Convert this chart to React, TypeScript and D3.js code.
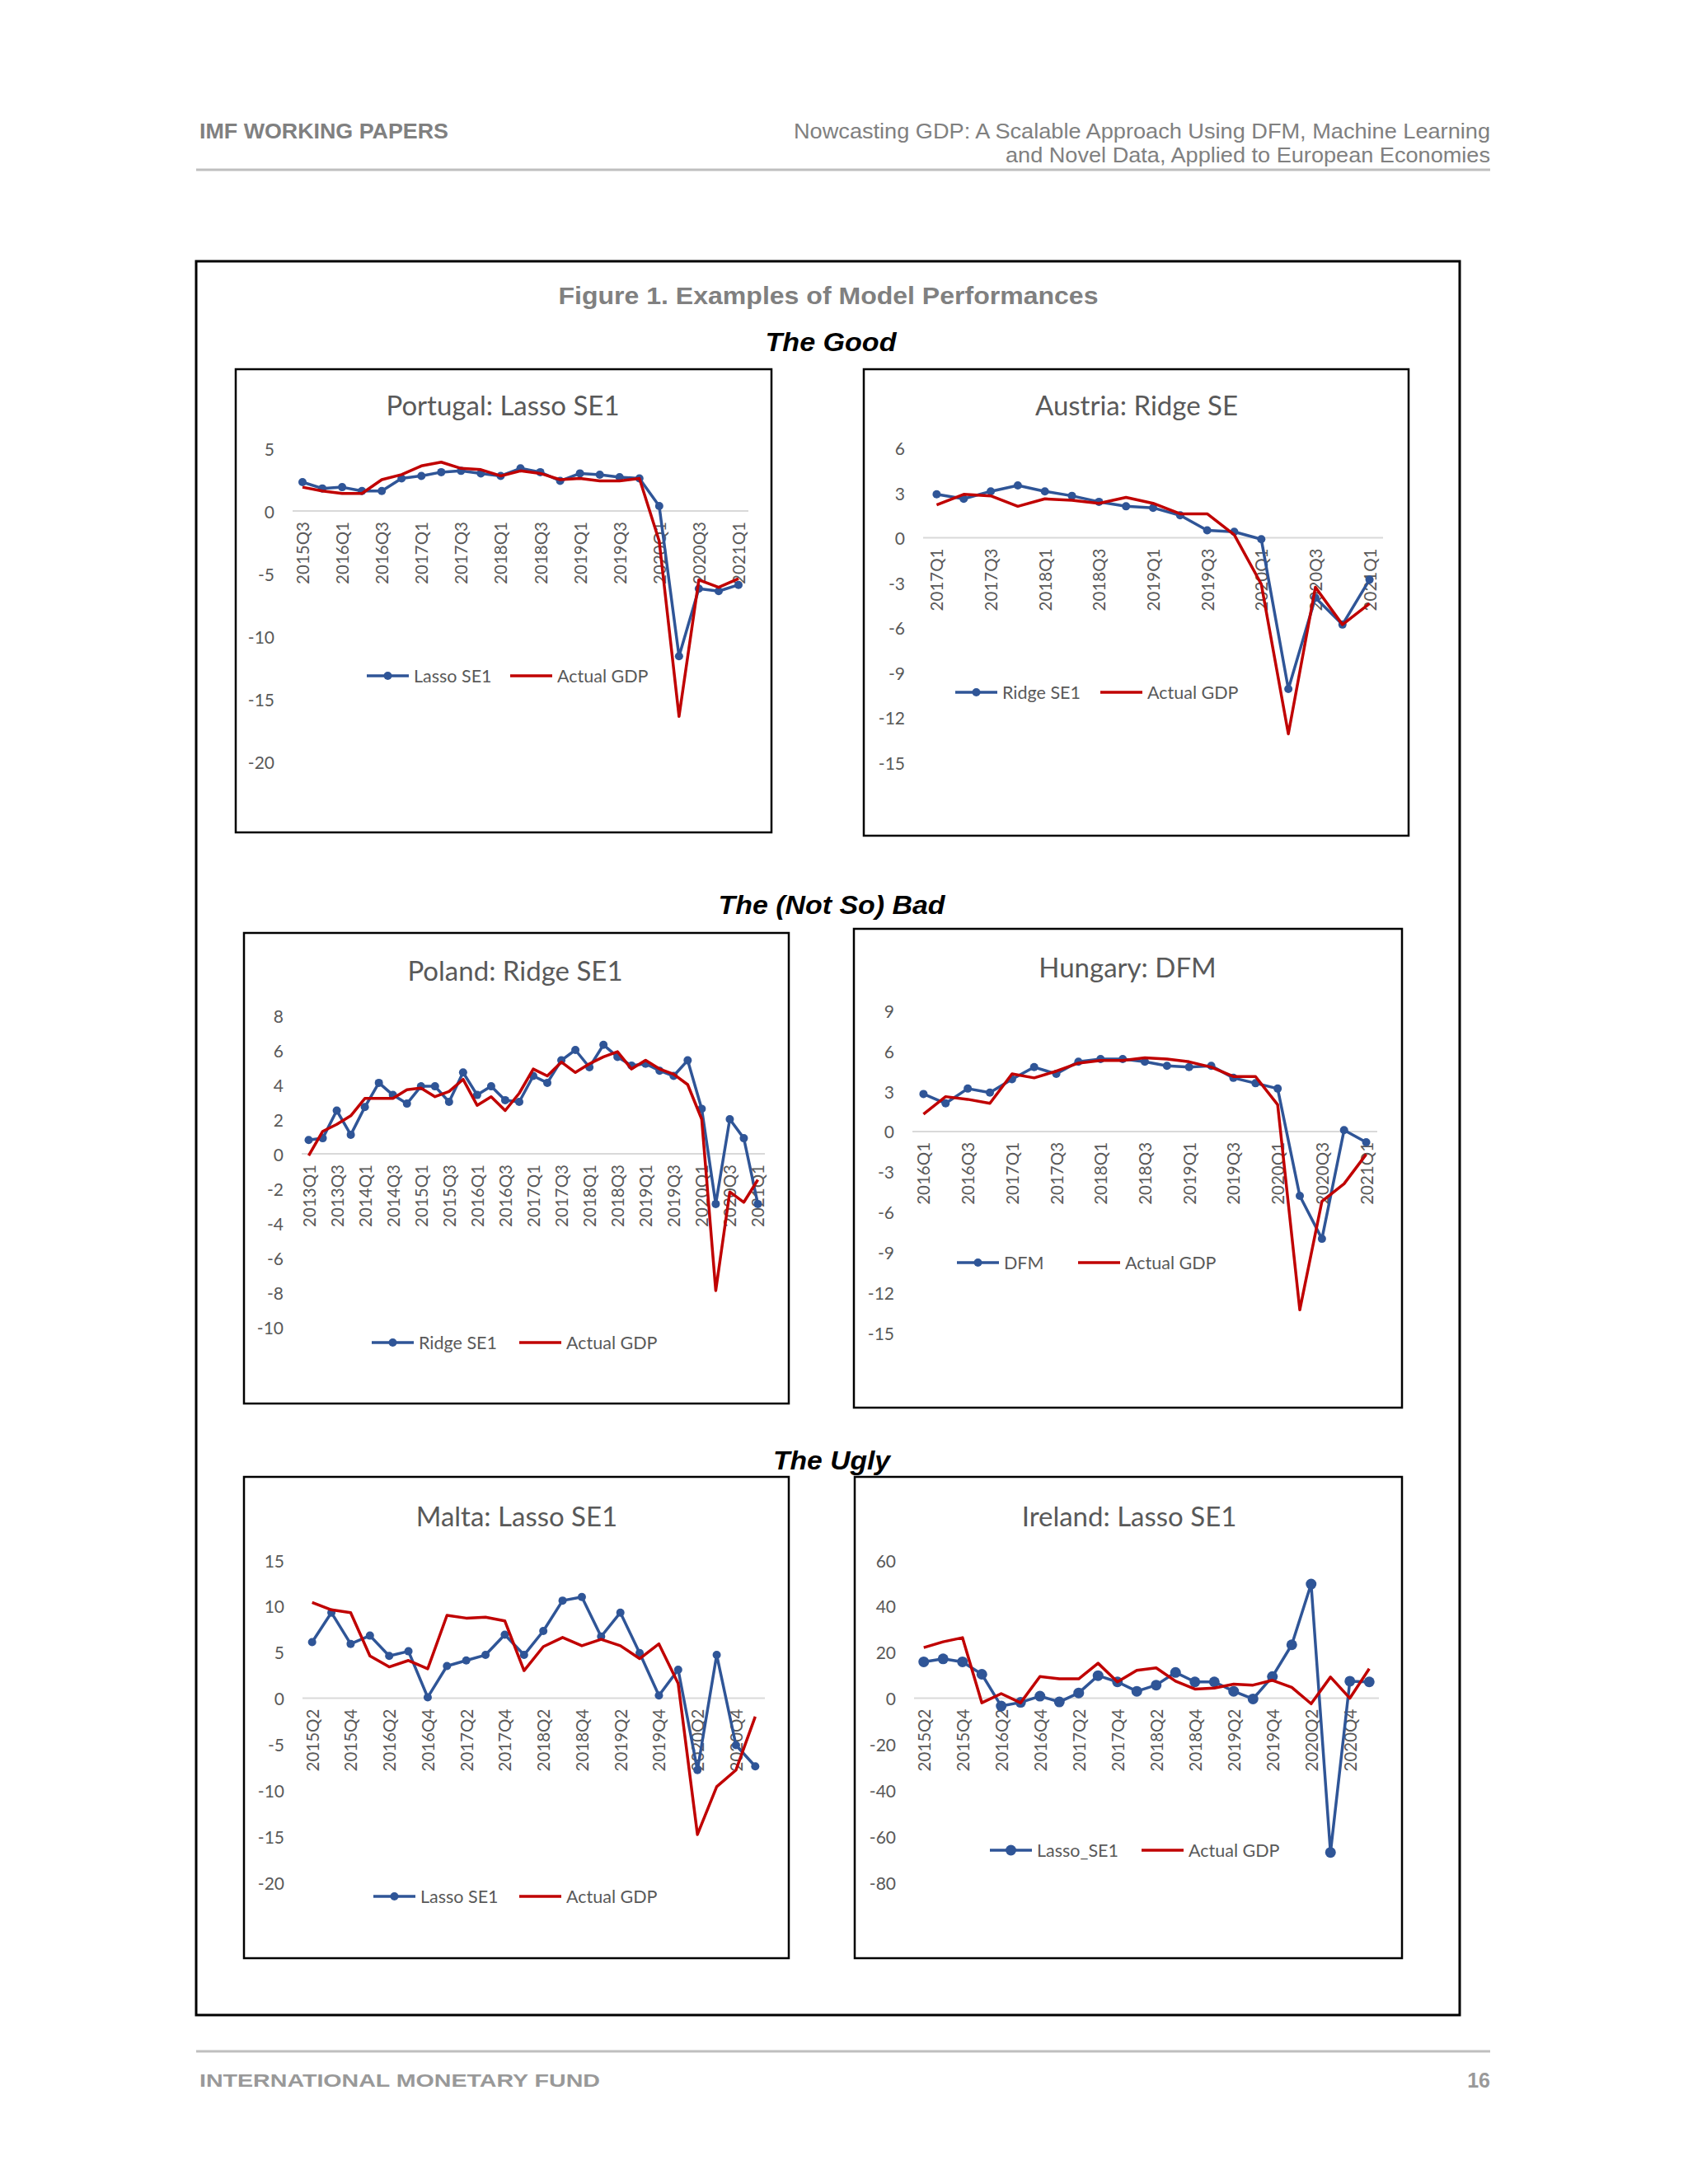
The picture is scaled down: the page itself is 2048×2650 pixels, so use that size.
import React from "react";
import * as d3 from "d3";

// quarters used across the six panels
const QUARTERS = [
  "2013Q1", "2013Q2", "2013Q3", "2013Q4",
  "2014Q1", "2014Q2", "2014Q3", "2014Q4",
  "2015Q1", "2015Q2", "2015Q3", "2015Q4",
  "2016Q1", "2016Q2", "2016Q3", "2016Q4",
  "2017Q1", "2017Q2", "2017Q3", "2017Q4",
  "2018Q1", "2018Q2", "2018Q3", "2018Q4",
  "2019Q1", "2019Q2", "2019Q3", "2019Q4",
  "2020Q1", "2020Q2", "2020Q3", "2020Q4",
  "2021Q1",
];

const PT_CATS = QUARTERS.slice(10); // 2015Q3..
const AT_CATS = QUARTERS.slice(16); // 2017Q1..
const PL_CATS = QUARTERS; // 2013Q1..
const HU_CATS = QUARTERS.slice(12); // 2016Q1..
const MT_CATS = QUARTERS.slice(9); // 2015Q2..
const IE_CATS = QUARTERS.slice(9);

const PT_MODEL = [2.3, 1.8, 1.9, 1.6, 1.6, 2.6, 2.8, 3.1, 3.2, 3.0, 2.8, 3.4, 3.1, 2.4, 3.0, 2.9, 2.7, 2.6, 0.4, -11.6, -6.2, -6.4, -5.9];
const PT_GDP = [1.9, 1.6, 1.4, 1.4, 2.5, 2.9, 3.6, 3.9, 3.4, 3.3, 2.8, 3.2, 3.0, 2.5, 2.6, 2.4, 2.4, 2.6, -2.4, -16.4, -5.5, -6.1, -5.4];

const AT_MODEL = [2.9, 2.6, 3.1, 3.5, 3.1, 2.8, 2.4, 2.1, 2.0, 1.5, 0.5, 0.4, -0.1, -10.1, -4.0, -5.8, -2.8];
const AT_GDP = [2.2, 2.9, 2.8, 2.1, 2.6, 2.5, 2.3, 2.7, 2.3, 1.6, 1.6, 0.2, -3.1, -13.1, -3.3, -5.8, -4.4];

const PL_MODEL = [0.8, 0.9, 2.5, 1.1, 2.7, 4.1, 3.4, 2.9, 3.9, 3.9, 3.0, 4.7, 3.4, 3.9, 3.1, 3.0, 4.5, 4.1, 5.4, 6.0, 5.0, 6.3, 5.6, 5.1, 5.2, 4.8, 4.5, 5.4, 2.6, -2.9, 2.0, 0.9, -2.9];
const PL_GDP = [-0.1, 1.3, 1.7, 2.2, 3.2, 3.2, 3.2, 3.7, 3.8, 3.3, 3.6, 4.3, 2.8, 3.3, 2.5, 3.5, 4.9, 4.5, 5.3, 4.7, 5.2, 5.6, 5.9, 4.9, 5.4, 4.9, 4.6, 4.0, 2.0, -7.9, -2.2, -2.8, -1.5];

const HU_MODEL = [2.8, 2.1, 3.2, 2.9, 3.9, 4.8, 4.3, 5.2, 5.4, 5.4, 5.2, 4.9, 4.8, 4.9, 4.0, 3.6, 3.2, -4.8, -8.0, 0.1, -0.8];
const HU_GDP = [1.3, 2.6, 2.4, 2.1, 4.3, 4.0, 4.5, 5.1, 5.3, 5.3, 5.5, 5.4, 5.2, 4.8, 4.1, 4.1, 2.0, -13.3, -5.2, -3.9, -1.7];

const MT_MODEL = [6.1, 9.3, 5.9, 6.8, 4.6, 5.1, 0.1, 3.5, 4.1, 4.7, 6.9, 4.7, 7.3, 10.6, 11.0, 6.7, 9.3, 4.9, 0.3, 3.1, -7.8, 4.7, -5.1, -7.4];
const MT_GDP = [10.4, 9.6, 9.3, 4.6, 3.4, 4.1, 3.2, 9.0, 8.7, 8.8, 8.4, 3.0, 5.6, 6.6, 5.7, 6.4, 5.7, 4.3, 5.9, 1.6, -14.8, -9.6, -7.8, -2.0];

const IE_MODEL = [15.8, 17.1, 15.8, 10.4, -3.4, -1.8, 0.9, -1.6, 2.3, 9.8, 7.1, 3.0, 5.7, 11.2, 7.1, 7.1, 3.0, -0.3, 9.4, 23.2, 49.6, -67.0, 7.4, 7.1];
const IE_GDP = [22.0, 24.5, 26.3, -2.0, 2.0, -2.0, 9.4, 8.4, 8.4, 15.2, 7.1, 12.1, 13.2, 7.4, 4.0, 4.4, 6.1, 5.7, 7.8, 4.7, -2.4, 9.2, 0.0, 12.8];

const PT_TICKS = [5, 0, -5, -10, -15, -20];
const AT_TICKS = [6, 3, 0, -3, -6, -9, -12, -15];
const PL_TICKS = [8, 6, 4, 2, 0, -2, -4, -6, -8, -10];
const HU_TICKS = [9, 6, 3, 0, -3, -6, -9, -12, -15];
const MT_TICKS = [15, 10, 5, 0, -5, -10, -15, -20];
const IE_TICKS = [60, 40, 20, 0, -20, -40, -60, -80];

const BLUE = "#2f5597";
const RED = "#c00000";
const CHART_FONT = "Lato, 'Noto Sans', sans-serif";
const PAGE_FONT = "'Liberation Sans', Arial, sans-serif";

interface ChartCfg {
  title: string;
  model: string;
  cats: string[];
  a: number[];
  b: number[];
  ticks: number[];
  box: [number, number, number, number];
  plot: { left: number; right: number; top: number; bottom: number };
  titlePos: [number, number];
  legend: { y: number; x1: number; x2: number };
  r?: number;
}

const charts: ChartCfg[] = [
  {
    title: "Portugal: Lasso SE1", model: "Lasso SE1", cats: PT_CATS, a: PT_MODEL, b: PT_GDP, ticks: PT_TICKS,
    box: [286, 448, 650, 562], plot: { left: 355, right: 908, top: 544, bottom: 924 },
    titlePos: [610, 491], legend: { y: 820, x1: 445, x2: 619 },
  },
  {
    title: "Austria: Ridge SE", model: "Ridge SE1", cats: AT_CATS, a: AT_MODEL, b: AT_GDP, ticks: AT_TICKS,
    box: [1048, 448, 661, 566], plot: { left: 1120, right: 1678, top: 543.5, bottom: 925 },
    titlePos: [1379, 491], legend: { y: 840, x1: 1159, x2: 1335 },
  },
  {
    title: "Poland: Ridge SE1", model: "Ridge SE1", cats: PL_CATS, a: PL_MODEL, b: PL_GDP, ticks: PL_TICKS,
    box: [296, 1132, 661, 571], plot: { left: 366, right: 928, top: 1232, bottom: 1610 },
    titlePos: [625, 1177], legend: { y: 1629, x1: 451, x2: 630 },
  },
  {
    title: "Hungary: DFM", model: "DFM", cats: HU_CATS, a: HU_MODEL, b: HU_GDP, ticks: HU_TICKS,
    box: [1036, 1127, 665, 581], plot: { left: 1107, right: 1671, top: 1226.5, bottom: 1617 },
    titlePos: [1368, 1173], legend: { y: 1532, x1: 1161, x2: 1308 },
  },
  {
    title: "Malta: Lasso SE1", model: "Lasso SE1", cats: MT_CATS, a: MT_MODEL, b: MT_GDP, ticks: MT_TICKS,
    box: [296, 1792, 661, 584], plot: { left: 367, right: 928, top: 1893, bottom: 2284 },
    titlePos: [627, 1839], legend: { y: 2301, x1: 453, x2: 630 },
  },
  {
    title: "Ireland: Lasso SE1", model: "Lasso_SE1", cats: IE_CATS, a: IE_MODEL, b: IE_GDP, ticks: IE_TICKS,
    box: [1037, 1792, 664, 584], plot: { left: 1109, right: 1673, top: 1893, bottom: 2284 },
    titlePos: [1370, 1839], legend: { y: 2245, x1: 1201, x2: 1385 }, r: 6.5,
  },
];

const Chart: React.FC<{ cfg: ChartCfg }> = ({ cfg }) => {
  const { plot, ticks, cats } = cfg;
  const x = d3.scalePoint<string>().domain(cats).range([plot.left, plot.right]).padding(0.5);
  const y = d3.scaleLinear().domain([ticks[ticks.length - 1], ticks[0]]).range([plot.bottom, plot.top]);
  const line = d3.line<number>().x((_, i) => x(cats[i]) as number).y((d) => y(d));
  const r = cfg.r ?? 5;
  const y0 = y(0);

  return (
    <g fontFamily={CHART_FONT}>
      <rect x={cfg.box[0]} y={cfg.box[1]} width={cfg.box[2]} height={cfg.box[3]} fill="#fff" stroke="#000" strokeWidth={2.5} />
      <text x={cfg.titlePos[0]} y={cfg.titlePos[1]} textAnchor="middle" dominantBaseline="central" fontSize={33} fill="#595959">
        {cfg.title}
      </text>
      {ticks.map((t) => (
        <text key={t} x={plot.left - 22} y={y(t)} textAnchor="end" dominantBaseline="central" fontSize={21} fill="#595959">
          {t}
        </text>
      ))}
      <line x1={plot.left} x2={plot.right} y1={y0} y2={y0} stroke="#d9d9d9" strokeWidth={2} />
      {cats.map((c, i) =>
        i % 2 === 0 ? (
          <text key={c} transform={`translate(${x(c)},${y0 + 13}) rotate(-90)`} textAnchor="end" dominantBaseline="central" fontSize={20.5} fill="#595959">
            {c}
          </text>
        ) : null
      )}
      <path d={line(cfg.a) || ""} fill="none" stroke={BLUE} strokeWidth={3.5} strokeLinejoin="round" />
      {cfg.a.map((v, i) => (
        <circle key={i} cx={x(cats[i])} cy={y(v)} r={r} fill={BLUE} />
      ))}
      <path d={line(cfg.b) || ""} fill="none" stroke={RED} strokeWidth={3.5} strokeLinejoin="round" />
      <g>
        <line x1={cfg.legend.x1} x2={cfg.legend.x1 + 51} y1={cfg.legend.y} y2={cfg.legend.y} stroke={BLUE} strokeWidth={3.5} />
        <circle cx={cfg.legend.x1 + 25.5} cy={cfg.legend.y} r={r} fill={BLUE} />
        <text x={cfg.legend.x1 + 57} y={cfg.legend.y} dominantBaseline="central" fontSize={21.5} fill="#595959">{cfg.model}</text>
        <line x1={cfg.legend.x2} x2={cfg.legend.x2 + 51} y1={cfg.legend.y} y2={cfg.legend.y} stroke={RED} strokeWidth={3.5} />
        <text x={cfg.legend.x2 + 57} y={cfg.legend.y} dominantBaseline="central" fontSize={21.5} fill="#595959">Actual GDP</text>
      </g>
    </g>
  );
};

export default function App() {
  return (
    <svg
      width={2048}
      height={2650}
      style={{ position: "absolute", left: 0, top: 0, background: "#fff" }}
    >
      <rect x={0} y={0} width={2048} height={2650} fill="#fff" />
      {/* page header */}
      <g fontFamily={PAGE_FONT} fill="#808080">
        <text x={242} y={168} fontSize={25} fontWeight="bold" textLength={302} lengthAdjust="spacingAndGlyphs">IMF WORKING PAPERS</text>
        <text x={1808} y={168} fontSize={25} textAnchor="end" textLength={845} lengthAdjust="spacingAndGlyphs">
          Nowcasting GDP: A Scalable Approach Using DFM, Machine Learning
        </text>
        <text x={1808} y={197} fontSize={25} textAnchor="end" textLength={588} lengthAdjust="spacingAndGlyphs">
          and Novel Data, Applied to European Economies
        </text>
      </g>
      <line x1={238} x2={1808} y1={206} y2={206} stroke="#bfbfbf" strokeWidth={3} />

      {/* figure frame */}
      <rect x={238} y={317} width={1533} height={2128} fill="none" stroke="#000" strokeWidth={3} />
      <g fontFamily={PAGE_FONT} textAnchor="middle">
        <text x={1005} y={369} fontSize={30} fontWeight="bold" fill="#808080" textLength={655} lengthAdjust="spacingAndGlyphs">
          Figure 1. Examples of Model Performances
        </text>
        <text x={1008} y={426} fontSize={32} fontWeight="bold" fontStyle="italic" fill="#000" textLength={159} lengthAdjust="spacingAndGlyphs">The Good</text>
        <text x={1009} y={1109} fontSize={32} fontWeight="bold" fontStyle="italic" fill="#000" textLength={275} lengthAdjust="spacingAndGlyphs">The (Not So) Bad</text>
        <text x={1009} y={1783} fontSize={32} fontWeight="bold" fontStyle="italic" fill="#000" textLength={142} lengthAdjust="spacingAndGlyphs">The Ugly</text>
      </g>

      {charts.map((c) => (
        <Chart key={c.title} cfg={c} />
      ))}

      {/* page footer */}
      <line x1={238} x2={1808} y1={2489} y2={2489} stroke="#bfbfbf" strokeWidth={3} />
      <g fontFamily={PAGE_FONT} fill="#999999" fontWeight="bold">
        <text x={242} y={2532} fontSize={22} textLength={486} lengthAdjust="spacingAndGlyphs">INTERNATIONAL MONETARY FUND</text>
        <text x={1808} y={2533} fontSize={25} textAnchor="end">16</text>
      </g>
    </svg>
  );
}
